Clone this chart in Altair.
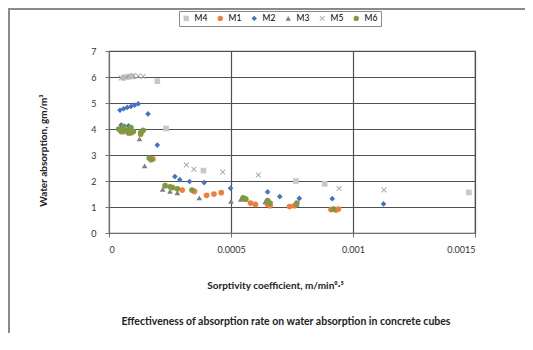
import altair as alt
import pandas as pd

series_order = ["M4", "M1", "M2", "M3", "M5", "M6"]
series_colors = ["#C8C8C8", "#F07D3A", "#4472C4", "#7F7F7F", "#ABABAB", "#7D9A3E"]

m4_x = [0.00006, 0.00009, 0.000198, 0.000234, 0.000387, 0.000766, 0.000884, 0.001475]
m4_y = [5.98, 6.02, 5.84, 4.02, 2.40, 2.00, 1.89, 1.56]

m1_x = [0.00006, 0.00009, 0.00013, 0.00018, 0.00026, 0.00030, 0.00035, 0.00040, 0.00043,
        0.00046, 0.00056, 0.00058, 0.00060, 0.00065, 0.00066, 0.00074, 0.00076, 0.00091,
        0.00093, 0.00094]
m1_y = [3.90, 3.85, 3.80, 2.85, 1.75, 1.65, 1.60, 1.45, 1.50, 1.55, 1.30, 1.15, 1.10,
        1.10, 1.05, 1.02, 1.05, 0.90, 0.88, 0.92]

m2_x = [0.000045, 0.00006, 0.000075, 0.00009, 0.000105, 0.00012, 0.00005, 0.00008, 0.00016,
        0.000198, 0.00027, 0.00029, 0.00033, 0.00039, 0.000498, 0.00065, 0.00070, 0.00078,
        0.000915, 0.001125]
m2_y = [4.72, 4.78, 4.83, 4.87, 4.92, 4.97, 4.15, 4.12, 4.58, 3.38, 2.17, 2.05, 1.98, 1.94,
        1.72, 1.58, 1.40, 1.33, 1.32, 1.12]

m3_x = [0.00006, 0.00008, 0.0001, 0.00005, 0.00008, 0.000125, 0.000146, 0.00022, 0.00025,
        0.00028, 0.00037, 0.00050, 0.00054, 0.00064, 0.00077, 0.00092]
m3_y = [5.97, 6.01, 6.03, 3.95, 3.90, 3.62, 2.58, 1.68, 1.60, 1.55, 1.35, 1.22, 1.30, 1.20,
        1.10, 0.95]

m5_x = [0.00005, 0.00007, 0.00008, 0.0001, 0.00012, 0.00014, 0.000317, 0.000348, 0.000466,
        0.000612, 0.000943, 0.001127]
m5_y = [5.96, 6.0, 6.03, 6.05, 6.04, 6.02, 2.62, 2.45, 2.34, 2.23, 1.71, 1.66]

m6_x = [0.00004, 0.00005, 0.00006, 0.00007, 0.00008, 0.00009, 0.0001, 0.00013, 0.00014,
        0.000165, 0.000172, 0.00023, 0.00025, 0.00026, 0.00028, 0.00034, 0.00055, 0.00056,
        0.00065, 0.00066, 0.00077, 0.00092]
m6_y = [4.00, 3.90, 4.10, 3.95, 3.85, 4.05, 3.90, 3.85, 3.95, 2.88, 2.82, 1.82, 1.78, 1.75,
        1.70, 1.65, 1.35, 1.30, 1.25, 1.15, 1.15, 0.92]

x_ticks = [0, 0.0005, 0.001, 0.0015]
y_ticks = [0, 1, 2, 3, 4, 5, 6, 7]

x_title = "Sorptivity coefficient, m/min⁰·⁵"
y_title = "Water absorption, gm/m³"
bottom_title = "Effectiveness of absorption rate on water absorption in concrete cubes"

rows = []
for name, xs, ys in [("M1", m1_x, m1_y), ("M2", m2_x, m2_y), ("M3", m3_x, m3_y),
                     ("M4", m4_x, m4_y), ("M5", m5_x, m5_y), ("M6", m6_x, m6_y)]:
    for a, b in zip(xs, ys):
        rows.append({"series": name, "x": a, "y": b})
df = pd.DataFrame(rows)

x_shape = "M-1,-0.75L-0.75,-1L0,-0.25L0.75,-1L1,-0.75L0.25,0L1,0.75L0.75,1L0,0.25L-0.75,1L-1,0.75L-0.25,0Z"
shapes = ["square", "circle", "diamond", "triangle-up", x_shape, "circle"]

FONT = "Lato"

points = alt.Chart(df).mark_point(filled=True, opacity=1, size=32, strokeWidth=0).encode(
    x=alt.X("x:Q", scale=alt.Scale(domain=[0, 0.0015], nice=False),
            axis=alt.Axis(values=x_ticks, format="~g", title=x_title,
                          titleX=166, titleY=52, titleBaseline="middle",
                          titleAnchor="middle")),
    y=alt.Y("y:Q", scale=alt.Scale(domain=[0, 7], nice=False),
            axis=alt.Axis(values=y_ticks, title=y_title, titleAngle=270,
                          titleX=-66, titleY=99, titleBaseline="middle",
                          titleAnchor="middle")),
    color=alt.Color("series:N", scale=alt.Scale(domain=series_order, range=series_colors),
                    legend=alt.Legend(title=None, orient="none", legendX=70, legendY=-40,
                                      direction="horizontal", symbolSize=28,
                                      labelFontSize=8.5, labelFont=FONT, columnPadding=8,
                                      strokeColor="#8a8a8a", padding=3,
                                      fillColor="white", symbolStrokeWidth=0)),
    shape=alt.Shape("series:N", scale=alt.Scale(domain=series_order, range=shapes)),
    order=alt.Order("series:N"),
)

frame_df = pd.DataFrame({"t": [bottom_title]})
bottom = alt.Chart(frame_df).mark_text(font=FONT, fontSize=10.5, fontWeight="bold",
                                        color="#222222", baseline="middle").encode(
    text="t:N", x=alt.value(177), y=alt.value(271))

# chart-area border (decoration)
frame_left = alt.Chart(frame_df).mark_rule(color="#8a8a8a", strokeWidth=2).encode(
    x=alt.value(-100), y=alt.value(-43), y2=alt.value(282))
frame_top = alt.Chart(frame_df).mark_rule(color="#8a8a8a", strokeWidth=2).encode(
    x=alt.value(-101), x2=alt.value(416), y=alt.value(-42))

chart = alt.layer(frame_left, frame_top, points, bottom).properties(
    width=366, height=182,
    autosize=alt.AutoSizeParams(type="none"),
    padding={"left": 101, "top": 43, "right": 50, "bottom": 105},
    background="white",
).configure_view(stroke="#555555", strokeWidth=1.2).configure_axis(
    grid=True, gridColor="#505050", gridWidth=1.2, domainColor="#707070",
    tickColor="#707070", tickSize=4, labelFont=FONT, labelFontSize=9,
    labelColor="#333333", titleFont=FONT, titleFontSize=10, titleFontWeight="bold",
    titleColor="#222222",
).configure_axisX(labelPadding=8).configure_axisY(labelPadding=9)

chart.save("out.html", embed_options={"renderer": "svg", "actions": False})
